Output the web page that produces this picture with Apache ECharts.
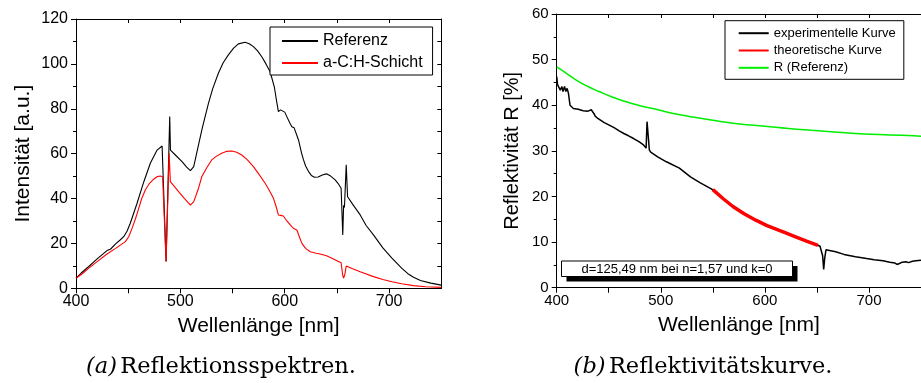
<!DOCTYPE html>
<html><head><meta charset="utf-8">
<script src="https://cdn.jsdelivr.net/npm/echarts@6/dist/echarts.min.js"></script>
<style>html,body{margin:0;padding:0;background:#fff}#c{width:921px;height:383px}</style>
</head><body><div id="c"></div>
<script>
// ---- (a) Reflektionsspektren ----
const refWl  = [400,405,412,420,429.7,433,437.7,442,445.7,449,452,458.5,465,471.2,477.7,482.5,484,486.3,489.8,490.5,495.2,501.6,506,509.6,511,512.8,516,520.8,526.9,531,536.4,541,546,551,555.6,562,566,570,574,578,582,586,590,592,593.9,596,597.7,600,602,605,606.8,609,610.6,613.2,616,618,620,622.8,625.5,628.5,632,636,640,644,648.3,651,654,655.6,656.4,657.2,658.9,660.2,665,672.3,678,685,694,702.7,712,718,723.4,730,740,750];
const refInt = [4.5,6.8,9.6,13,16.8,17.4,19.7,21.4,23,25.5,29,37.9,47.5,55.7,61.6,63.4,63,12,76.5,61.6,59.4,56.4,54,52.4,52.2,54.2,61,71,82.4,89,95.8,100.5,104,107,108.9,109.6,109,107.7,105.8,103.2,100,96.5,89.8,84,78.7,79.5,79.8,78.5,76.5,73.5,72,71.5,71.3,66.1,60.5,57.2,54.5,52,50.3,49.5,49.6,50.5,51,50,48.3,46.8,44.6,23.8,37,36,55,40.8,37.5,32.7,28,23.8,18,13.4,9,6.5,4.9,3.5,2.3,1.4];
const schWl  = [400,406,412,420,429.7,438,447.3,450.5,453.7,457,460.1,463,466.4,470,474.4,478,480.8,483,486.3,489.2,490.4,494,498.5,504,509.6,511,512.8,514,517,520.5,525,530,535,539.6,544,549.3,554,558.8,564,570,575,581.2,585,589.2,592,593.9,596,598.7,602,606.8,609,611.6,614,616.4,620,624.4,630,634,640,645.2,650,654,655.5,656.3,657.5,658.9,665,672.3,685,694,702.7,712,723.4,735,750];
const schInt = [4.5,6.5,8.9,11.8,15.3,17.8,20.8,23,26.7,31,35.6,40,43.8,46.5,48.6,49.8,50,49.7,12,60.2,47.5,45.5,43,40,37.1,36.9,38.6,39.3,44,49.7,53.5,57.2,59,60.2,61,61.2,60.6,59.4,57.3,54.2,51,46.8,43.8,40.1,36,32.7,32.5,32.2,30,27.5,26.5,26,23,20,17.8,16.3,15.6,15.3,14.5,13.4,12.3,11.4,6,4.5,6,9.9,8.7,7.4,5.2,3.9,2.9,2,1.2,0.7,0.4];

// ---- (b) Reflektivitätskurve ----
const expWl = [400,400.8,401.9,403.4,405,406,407.5,408.8,410,411.3,412.8,416,420.7,425.4,430.1,433.2,434.5,435.7,437,439.5,445.7,450,455.1,460,464.5,469,473.9,479,483.4,485.9,486.8,488,489,490.3,497,505.4,517.9,528.5,538,548.9,552,569.3,591.3,613.2,628.9,640,651,653,654.6,655.5,656.5,657.5,658.7,660.2,668,676,687,697.8,705,713.5,720,725,727,729.3,732,733,735.5,738,741.8,745,750];
const expR  = [46.3,44.5,44.1,43.3,44.1,43,44.1,43,43.7,42.6,40,39.3,39.1,38.8,38.7,39,38.6,38.2,37.6,37.1,36.2,35.7,35.1,34.4,33.8,33.3,32.7,32,31.3,30.6,36.4,33.1,30.2,29.7,28.7,27.6,26.2,24.3,23,21.6,21.1,17.8,14.8,12.6,11.2,10.2,9.3,9.1,9,7,4,6.5,8.3,8.5,7.9,7.3,6.8,6.4,6.15,5.9,5.6,5.4,5.1,5.3,5.6,5.2,5.7,5.5,5.8,5.9,6];
const theoWl = [550,560,569.3,580,591.3,602,613.2,620,628.9,640,651];
const theoR  = [21.5,19.5,17.8,16.2,14.8,13.6,12.6,12,11.2,10.2,9.3];
const rrefWl = [400,410,418.8,430,440.7,452,465.9,480,497.2,512,528.5,550,575.5,600,622.6,645,669.6,695,720,743,750];
const rrefR  = [48.4,46.9,45.5,44.1,43,41.9,40.8,39.9,39,38.2,37.5,36.7,35.9,35.4,34.9,34.5,34.1,33.7,33.5,33.3,33.2];

const zip = (a, b) => a.map((v, i) => [v, b[i]]);
const F = 'Liberation Sans, Arial, sans-serif';
const BK = '#000';
const chart = echarts.init(document.getElementById('c'));

function xBottom(g, fs, margin) {
  return { type:'value', gridIndex:g, position:'bottom', min:400, max:750, interval:50,
    name:'Wellenlänge [nm]', nameLocation:'middle', nameGap:27,
    nameTextStyle:{fontFamily:F, fontSize:21, color:BK},
    axisLine:{show:true, onZero:false, lineStyle:{color:BK, width:1}},
    axisTick:{show:true, inside:false, length:5, lineStyle:{color:BK}},
    axisLabel:{show:true, fontFamily:F, fontSize:fs, color:BK, margin:margin,
      showMaxLabel:false, formatter: v => (v % 100 === 0 ? String(v) : '')},
    splitLine:{show:false} };
}
function xTop(g) {
  return { type:'value', gridIndex:g, position:'top', min:400, max:750, interval:50,
    axisLine:{show:true, onZero:false, lineStyle:{color:BK, width:1}},
    axisTick:{show:true, inside:true, length:4, lineStyle:{color:BK}},
    axisLabel:{show:false}, splitLine:{show:false} };
}

const option = {
  animation:false,
  backgroundColor:'#fff',
  textStyle:{fontFamily:F},
  grid:[
    {left:76, top:19, width:365.3, height:269.3},
    {left:556.7, top:14, width:372, height:273.7}
  ],
  xAxis:[ xBottom(0, 16, 5), xTop(0), xBottom(1, 15, 6), xTop(1) ],
  yAxis:[
    { type:'value', gridIndex:0, position:'left', min:0, max:120, interval:20,
      name:'Intensität [a.u.]', nameLocation:'middle', nameGap:42,
      nameTextStyle:{fontFamily:F, fontSize:21, color:BK},
      axisLine:{show:true, onZero:false, lineStyle:{color:BK, width:1}},
      axisTick:{show:true, inside:false, length:5, lineStyle:{color:BK}},
      minorTick:{show:true, splitNumber:2, length:3, lineStyle:{color:BK}},
      axisLabel:{fontFamily:F, fontSize:16, color:BK, margin:8},
      splitLine:{show:false}, minorSplitLine:{show:false} },
    { type:'value', gridIndex:0, position:'right', min:0, max:120, interval:10,
      axisLine:{show:true, onZero:false, lineStyle:{color:BK, width:1}},
      axisTick:{show:true, inside:true, length:4, lineStyle:{color:BK}},
      axisLabel:{show:false}, splitLine:{show:false} },
    { type:'value', gridIndex:1, position:'left', min:0, max:60, interval:10,
      name:'Reflektivität R [%]', nameLocation:'middle', nameGap:34,
      nameTextStyle:{fontFamily:F, fontSize:20, color:BK},
      axisLine:{show:true, onZero:false, lineStyle:{color:BK, width:1}},
      axisTick:{show:true, inside:false, length:5, lineStyle:{color:BK}},
      minorTick:{show:true, splitNumber:2, length:3, lineStyle:{color:BK}},
      axisLabel:{fontFamily:F, fontSize:15, color:BK, margin:8},
      splitLine:{show:false}, minorSplitLine:{show:false} }
  ],
  legend:[
    { data:['Referenz','a-C:H-Schicht'], left:270, top:27, orient:'vertical',
      itemWidth:36, itemHeight:14, itemGap:6, padding:[6,10,4,11],
      itemStyle:{opacity:0},
      borderColor:BK, borderWidth:1, borderRadius:0, backgroundColor:'#fff',
      textStyle:{fontFamily:F, fontSize:16, color:BK} },
    { data:['experimentelle Kurve','theoretische Kurve','R (Referenz)'], left:725, top:20.7, orient:'vertical',
      itemWidth:30, itemHeight:12, itemGap:4.3, padding:[6,8,5,12.7],
      itemStyle:{opacity:0},
      borderColor:BK, borderWidth:1, borderRadius:0, backgroundColor:'#fff',
      textStyle:{fontFamily:F, fontSize:13, color:BK} }
  ],
  series:[
    { name:'Referenz', type:'line', xAxisIndex:0, yAxisIndex:0, symbol:'none', smooth:false,
      data:zip(refWl, refInt), lineStyle:{color:BK, width:1.1}, itemStyle:{color:BK} },
    { name:'a-C:H-Schicht', type:'line', xAxisIndex:0, yAxisIndex:0, symbol:'none',
      data:zip(schWl, schInt), lineStyle:{color:'#ff0000', width:1.1}, itemStyle:{color:'#ff0000'} },
    { name:'experimentelle Kurve', type:'line', xAxisIndex:2, yAxisIndex:2, symbol:'none',
      data:zip(expWl, expR), lineStyle:{color:BK, width:1.5}, itemStyle:{color:BK} },
    { name:'theoretische Kurve', type:'line', xAxisIndex:2, yAxisIndex:2, symbol:'none',
      data:zip(theoWl, theoR), lineStyle:{color:'#ff0000', width:3.5}, itemStyle:{color:'#ff0000'} },
    { name:'R (Referenz)', type:'line', xAxisIndex:2, yAxisIndex:2, symbol:'none', smooth:true,
      data:zip(rrefWl, rrefR), lineStyle:{color:'#00ee00', width:1.5}, itemStyle:{color:'#00ee00'} }
  ],
  graphic:[
    { type:'rect', shape:{x:566.5, y:266, width:231, height:15.5}, style:{fill:'#000'}, z:10 },
    { type:'rect', shape:{x:561.5, y:261, width:231, height:15.5}, style:{fill:'#fff', stroke:'#000', lineWidth:1}, z:11 },
    { type:'text', x:677, y:269, z:12,
      style:{text:'d=125,49 nm bei n=1,57 und k=0', font:'13px ' + F, fill:'#000', align:'center', verticalAlign:'middle'} },
    { type:'text', x:221, y:367, z:12,
      style:{text:'{i|(a)} {r|Reflektionsspektren.}', align:'center', verticalAlign:'middle', fill:'#000',
        rich:{ i:{fontFamily:'DejaVu Serif', fontStyle:'italic', fontSize:22.5, fill:'#000'},
               r:{fontFamily:'DejaVu Serif', fontSize:22.5, fill:'#000'} } } },
    { type:'text', x:703, y:367, z:12,
      style:{text:'{i|(b)} {r|Reflektivitätskurve.}', align:'center', verticalAlign:'middle', fill:'#000',
        rich:{ i:{fontFamily:'DejaVu Serif', fontStyle:'italic', fontSize:22.5, fill:'#000'},
               r:{fontFamily:'DejaVu Serif', fontSize:22.5, fill:'#000'} } } }
  ]
};
chart.setOption(option);
</script></body></html>
